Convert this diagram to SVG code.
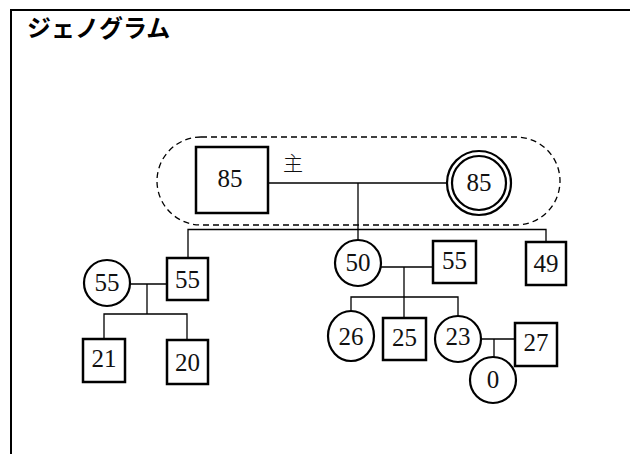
<svg xmlns="http://www.w3.org/2000/svg" width="630" height="454" viewBox="0 0 630 454">
<style>
.frame{fill:none;stroke:#000;stroke-width:2}
.sq{fill:#fff;stroke:#000;stroke-width:2.5}
.ci{fill:#fff;stroke:#000;stroke-width:2.2}
.ln{fill:none;stroke:#000;stroke-width:1.3}
.num{font-family:"Liberation Serif",serif;font-size:25px;text-anchor:middle;fill:#111}
.title{font-family:"Noto Sans CJK JP",sans-serif;font-size:24px;font-weight:bold;fill:#000}
.lbl{font-family:"Noto Sans CJK JP",sans-serif;font-size:20px;font-weight:300;fill:#111}
</style>
<rect width="630" height="454" fill="#fff"/>
<path class="frame" d="M11,454 V10 H630"/>
<text class="title" x="27" y="37">ジェノグラム</text>
<rect x="157" y="137" width="403" height="88" rx="44" ry="44" fill="none" stroke="#000" stroke-width="1.3" stroke-dasharray="6,4"/>
<g id="connectors">
<line class="ln" x1="264" y1="183" x2="447" y2="183"/>
<line class="ln" x1="358" y1="183" x2="358" y2="241"/>
<polyline class="ln" points="188,258 188,229.5 546,229.5 546,242"/>
<line class="ln" x1="130" y1="284" x2="167" y2="284"/>
<line class="ln" x1="147" y1="284" x2="147" y2="314"/>
<polyline class="ln" points="104,339 104,314 187,314 187,340"/>
<line class="ln" x1="381" y1="267" x2="433" y2="267"/>
<line class="ln" x1="404" y1="267" x2="404" y2="318"/>
<polyline class="ln" points="351,311 351,297 458,297 458,316"/>
<line class="ln" x1="481" y1="339" x2="515" y2="339"/>
<line class="ln" x1="494" y1="339" x2="494" y2="357"/>
</g>
<g id="n-father85"><rect class="sq" x="196" y="147" width="72" height="66"/><text class="num" x="230" y="187">85</text></g>
<text class="lbl" x="283" y="171">主</text>
<g id="n-mother85"><circle class="ci" cx="479" cy="183" r="32"/><circle class="ci" cx="479" cy="183" r="27"/><text class="num" x="479" y="191" fill="#333">85</text></g>
<g id="n-sq55a"><rect class="sq" x="167" y="258" width="41" height="42"/><text class="num" x="187.5" y="288">55</text></g>
<g id="n-ci55"><circle class="ci" cx="107" cy="283" r="23"/><text class="num" x="107" y="291">55</text></g>
<g id="n-sq21"><rect class="sq" x="83" y="339" width="42" height="43"/><text class="num" x="104" y="367">21</text></g>
<g id="n-sq20"><rect class="sq" x="167" y="340" width="41" height="44"/><text class="num" x="187.5" y="371">20</text></g>
<g id="n-ci50"><circle class="ci" cx="358" cy="263" r="23"/><text class="num" x="358" y="271">50</text></g>
<g id="n-sq55b"><rect class="sq" x="433" y="241" width="43" height="42"/><text class="num" x="454.5" y="269">55</text></g>
<g id="n-sq49"><rect class="sq" x="526" y="242" width="40" height="43"/><text class="num" x="546" y="272">49</text></g>
<g id="n-ci26"><ellipse class="ci" cx="351" cy="336" rx="23" ry="25"/><text class="num" x="351" y="345">26</text></g>
<g id="n-sq25"><rect class="sq" x="383" y="318" width="43" height="42"/><text class="num" x="404.5" y="346">25</text></g>
<g id="n-ci23"><circle class="ci" cx="458" cy="339" r="23"/><text class="num" x="458" y="345">23</text></g>
<g id="n-sq27"><rect class="sq" x="515" y="323" width="42" height="43"/><text class="num" x="536" y="351">27</text></g>
<g id="n-ci0"><circle class="ci" cx="493" cy="380" r="23"/><text class="num" x="493" y="388">0</text></g>
</svg>
